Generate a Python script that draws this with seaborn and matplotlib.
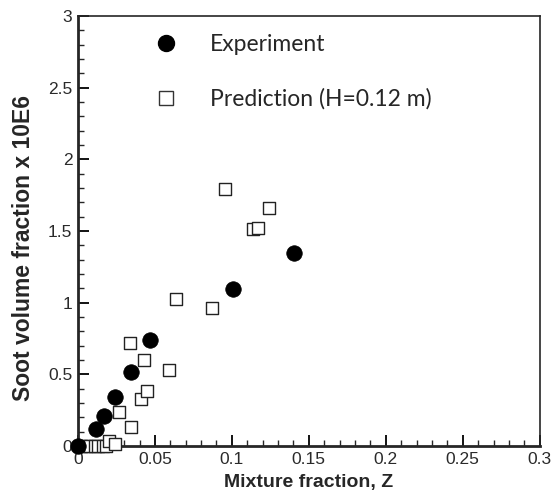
import matplotlib
matplotlib.use("Agg")
import matplotlib.pyplot as plt
import seaborn as sns
import pandas as pd
from matplotlib.ticker import MultipleLocator
from matplotlib.lines import Line2D

exp_z = [0.0, 0.0118, 0.017, 0.0241, 0.0345, 0.047, 0.1008, 0.1406]
exp_fv = [0.0, 0.119, 0.209, 0.342, 0.519, 0.737, 1.095, 1.345]

pred_z = [0.002, 0.005, 0.008, 0.011, 0.013, 0.016, 0.018, 0.0203, 0.0243,
          0.0345, 0.0267, 0.0408, 0.0451, 0.059, 0.043, 0.0337, 0.0873,
          0.064, 0.1135, 0.117, 0.1244, 0.0956]
pred_fv = [0.0, 0.0, 0.0, 0.0, 0.0, 0.0, 0.0, 0.035, 0.012,
           0.133, 0.237, 0.326, 0.386, 0.528, 0.602, 0.721, 0.963,
           1.028, 1.512, 1.519, 1.661, 1.791]

x_ticks = [0, 0.05, 0.1, 0.15, 0.2, 0.25, 0.3]
x_ticklabels = ["0", "0.05", "0.1", "0.15", "0.2", "0.25", "0.3"]
y_ticks = [0, 0.5, 1, 1.5, 2, 2.5, 3]
y_ticklabels = ["0", "0.5", "1", "1.5", "2", "2.5", "3"]

sns.set_style("ticks")
plt.rcParams['font.family'] = ['Liberation Sans', 'DejaVu Sans']

fig = plt.figure(figsize=(5.53, 4.93), dpi=100)
ax = fig.add_axes([0.141, 0.0953, 0.835, 0.8722])

df_exp = pd.DataFrame({"z": exp_z, "fv": exp_fv})
df_pred = pd.DataFrame({"z": pred_z, "fv": pred_fv})

sns.scatterplot(data=df_pred, x="z", y="fv", ax=ax, marker="s", s=70,
                facecolor="white", edgecolor="#222222", linewidth=1.0,
                zorder=3, clip_on=False)
sns.scatterplot(data=df_exp, x="z", y="fv", ax=ax, marker="o", s=125,
                color="black", edgecolor="black", linewidth=0.5,
                zorder=4, clip_on=False)

ax.set_xlim(0, 0.3)
ax.set_ylim(0, 3)
ax.set_xticks(x_ticks)
ax.set_xticklabels(x_ticklabels)
ax.set_yticks(y_ticks)
ax.set_yticklabels(y_ticklabels)
ax.xaxis.set_minor_locator(MultipleLocator(0.01))
ax.yaxis.set_minor_locator(MultipleLocator(0.1))
ax.tick_params(which="major", direction="in", length=8, width=1.3,
               labelsize=12.5, colors="black", labelcolor="#2a2a2a", pad=4,
               top=False, right=False)
ax.tick_params(which="minor", direction="in", length=4, width=1.0,
               top=False, right=False)
for side in ["left", "bottom", "top", "right"]:
    ax.spines[side].set_visible(True)
ax.spines["left"].set_linewidth(2.0)
ax.spines["bottom"].set_linewidth(2.0)
ax.spines["top"].set_linewidth(1.2)
ax.spines["right"].set_linewidth(1.2)

ax.set_xlabel("Mixture fraction, Z", fontsize=14, fontweight="bold", labelpad=5)
ax.set_ylabel("Soot volume fraction x 10E6", fontsize=16.5, fontweight="bold")
ax.yaxis.set_label_coords(-0.093, 0.46)

handles = [
    Line2D([], [], linestyle="none", marker="o", markersize=11.5,
           markerfacecolor="black", markeredgecolor="black"),
    Line2D([], [], linestyle="none", marker="s", markersize=9.5,
           markerfacecolor="white", markeredgecolor="#333333", markeredgewidth=1.0),
]
leg = ax.legend(handles, ["Experiment", "Prediction (H=0.12 m)"],
                loc="upper left", bbox_to_anchor=(0.145, 0.98), frameon=False,
                prop={"family": ["Lato", "DejaVu Sans"], "size": 16.5},
                labelspacing=1.45, handletextpad=1.44, handlelength=1.0,
                borderaxespad=0)

fig.savefig("out.png", dpi=100)
